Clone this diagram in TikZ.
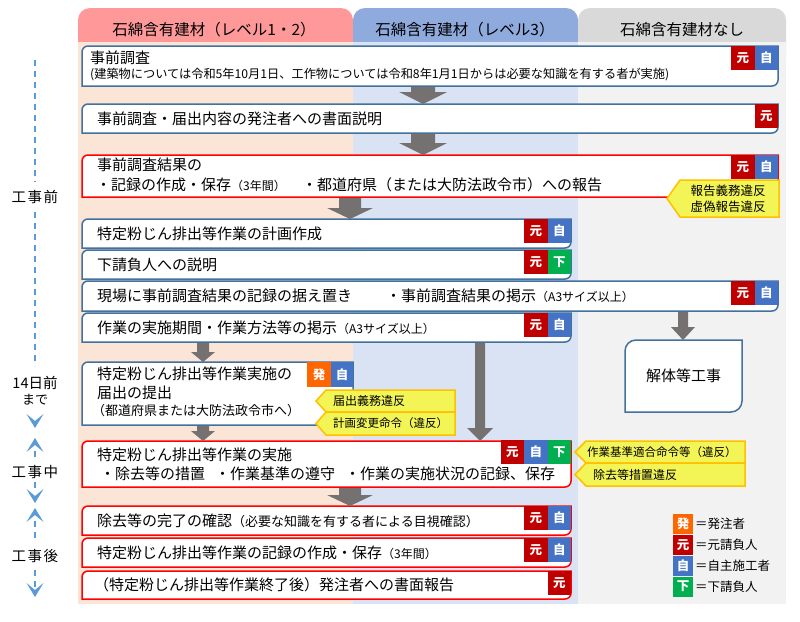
\documentclass[tikz,border=0pt]{standalone}
\usepackage{fontspec}
\setmainfont{Noto Sans CJK JP}
\usetikzlibrary{calc}
\definecolor{hdA}{RGB}{255,153,153}
\definecolor{bdA}{RGB}{251,229,214}
\definecolor{hdB}{RGB}{143,170,220}
\definecolor{bdB}{RGB}{218,227,243}
\definecolor{hdC}{RGB}{217,217,217}
\definecolor{bdC}{RGB}{242,242,242}
\definecolor{cGen}{RGB}{192,0,0}
\definecolor{cJi}{RGB}{68,114,196}
\definecolor{cShita}{RGB}{0,176,80}
\definecolor{cHatsu}{RGB}{255,102,0}
\definecolor{arrGray}{RGB}{118,113,113}
\definecolor{lnBlue}{RGB}{65,113,156}
\definecolor{lnRed}{RGB}{255,0,0}
\definecolor{tlBlue}{RGB}{91,155,213}
\definecolor{callFill}{RGB}{242,245,85}
\definecolor{callLine}{RGB}{255,192,0}
\newcommand\fsz[1]{\fontsize{#1}{#1}\selectfont}
% box: [radius]{name}{x}{y}{w}{h}{style}
\newcommand\mkbox[7][6]{%
  \node[anchor=north west, inner sep=0pt, outer sep=0pt, minimum width=#5pt, minimum height=#6pt] (#2) at (#3,#4) {};
  \draw[#7] (#2.south west) -- ($(#2.north west)+(0,#1)$) .. controls ($(#2.north west)+(0,{0.45*#1})$) and ($(#2.north west)+({0.45*#1},0)$) .. ($(#2.north west)+(#1,0)$) -- (#2.north east) -- ($(#2.south east)+(0,-#1)$) .. controls ($(#2.south east)+(0,{-0.45*#1})$) and ($(#2.south east)+({-0.45*#1},0)$) .. ($(#2.south east)+(-#1,0)$) -- cycle;
}
% callout: tipx, leftx, y1, rightx, y2
\newcommand\callout[5]{%
  \filldraw[calloutshape] (#1,{(#3+#5)/2}) -- (#2,#3) -- (#4,#3) -- (#4,#5) -- (#2,#5) -- cycle;}
% block arrow: x, from, to, shaft half, head half, head length
\newcommand\blockarr[6]{%
  \path (#1,0 |- #2.south) coordinate (ba-s) (#1,0 |- #3.north) coordinate (ba-e);
  \fill[arrGray] ($(ba-s)+(-#4,1)$) -- ($(ba-s)+(#4,1)$) -- ($(ba-e)+(#4,-#6)$) -- ($(ba-e)+(#5,-#6)$) -- (ba-e) -- ($(ba-e)+(-#5,-#6)$) -- ($(ba-e)+(-#4,-#6)$) -- cycle;}
% chevron on timeline: wing y, tip y
\newcommand\chev[2]{%
  \fill[tlBlue] (26.5,#1) -- (35,#2) -- (43.5,#1) -- (35,{#1+(#2-#1)*0.5}) -- cycle;}
\begin{document}
\begin{tikzpicture}[x=1pt,y=-1pt,
  bbox/.style={draw=lnBlue, line width=1.5pt, fill=white},
  rbox/.style={draw=lnRed, line width=1.5pt, fill=white},
  txt/.style={anchor=west, inner sep=0pt, font=\fsz{15}},
  hdr/.style={inner sep=0pt, font=\fsz{15.5}},
  badge/.style={fill=#1, text=white, inner sep=0pt, outer sep=0pt, minimum width=23.5pt, minimum height=23.5pt, font=\fsz{12.5}\bfseries, anchor=north east},
  lgbadge/.style={badge=#1, minimum width=20pt, minimum height=20pt, anchor=center},
  calloutshape/.style={fill=callFill, draw=callLine, line width=1.5pt},
  calltxt/.style={inner sep=0pt, font=\fsz{12}},
  tl/.style={draw=tlBlue, line width=2pt, dash pattern=on 6pt off 5pt},
  tltxt/.style={inner sep=0pt, font=\fsz{14.5}},
  lgtxt/.style={anchor=west, inner sep=0pt, font=\fsz{12.5}}]
\useasboundingbox (0,0) rectangle (800,621);
\fill[white] (0,0) rectangle (800,621);
% column headers and bodies
\fill[hdA, rounded corners=12pt] (78,8) rectangle (353,70);
\fill[hdB, rounded corners=12pt] (353,8) rectangle (578,70);
\fill[hdC, rounded corners=12pt] (578,8) rectangle (786,70);
\fill[bdA] (78,42) rectangle (353,604);
\fill[bdB] (353,42) rectangle (578,604);
\fill[bdC] (578,42) rectangle (786,604);
\node[hdr] (h1) at (214,30) {石綿含有建材（レベル1・2）};
\node[hdr] (h2) at (465,30) {石綿含有建材（レベル3）};
\node[hdr] (h3) at (682,30) {石綿含有建材なし};
% boxes
\mkbox{b1}{82}{46}{696}{40}{bbox}
\mkbox{b2}{82}{104}{696}{29}{bbox}
\mkbox{b3}{82}{155}{696}{42}{rbox}
\mkbox{b4}{82}{219}{489}{29}{bbox}
\mkbox{b5}{82}{250}{489}{29}{bbox}
\mkbox{b6}{82}{281}{696}{30}{bbox}
\mkbox{b7}{82}{313}{489}{29}{bbox}
\mkbox[11]{b8}{625}{340}{117}{72}{bbox}
\mkbox{b9}{82}{362}{271}{63}{bbox}
\mkbox{b10}{82}{441}{489}{46}{rbox}
\mkbox{b11}{82}{506}{489}{29}{rbox}
\mkbox{b12}{82}{538}{489}{29}{rbox}
\mkbox{b13}{82}{571}{489}{28}{rbox}
% gray arrows
\blockarr{423}{b1}{b2}{12}{24}{12}
\blockarr{423}{b2}{b3}{12}{24}{12}
\blockarr{350}{b3}{b4}{11}{23}{11}
\blockarr{203}{b7}{b9}{6}{12}{10}
\blockarr{683}{b6}{b8}{5}{12}{13}
\blockarr{480}{b7}{b10}{5}{13}{13}
\blockarr{203}{b9}{b10}{6}{12}{10}
\blockarr{350}{b10}{b11}{11}{23}{11}
% badges
\node[badge=cJi] (b1j) at (b1.north east) {自};
\node[badge=cGen] (b1g) at (b1j.north west) {元};
\node[badge=cGen] (b2g) at (b2.north east) {元};
\node[badge=cJi] (b3j) at (b3.north east) {自};
\node[badge=cGen] (b3g) at (b3j.north west) {元};
\node[badge=cJi] (b4j) at (b4.north east) {自};
\node[badge=cGen] (b4g) at (b4j.north west) {元};
\node[badge=cShita] (b5s) at (b5.north east) {下};
\node[badge=cGen] (b5g) at (b5s.north west) {元};
\node[badge=cJi] (b6j) at (b6.north east) {自};
\node[badge=cGen] (b6g) at (b6j.north west) {元};
\node[badge=cJi] (b7j) at (b7.north east) {自};
\node[badge=cGen] (b7g) at (b7j.north west) {元};
\node[badge=cJi, minimum width=22pt, minimum height=25pt] (b9j) at (b9.north east) {自};
\node[badge=cHatsu, minimum width=24pt, minimum height=25pt] (b9h) at (b9j.north west) {発};
\node[badge=cShita] (b10s) at ($(b10.north east)+(0,-1)$) {下};
\node[badge=cJi] (b10j) at (b10s.north west) {自};
\node[badge=cGen] (b10g) at (b10j.north west) {元};
\node[badge=cJi] (b11j) at (b11.north east) {自};
\node[badge=cGen] (b11g) at (b11j.north west) {元};
\node[badge=cJi] (b12j) at (b12.north east) {自};
\node[badge=cGen] (b12g) at (b12j.north west) {元};
\node[badge=cGen] (b13g) at (b13.north east) {元};
% texts in boxes
\node[txt] (t1a) at (90,58) {事前調査};
\node[txt, font=\fsz{12.2}] (t1b) at (90,75) {(建築物については令和5年10月1日、工作物については令和8年1月1日からは必要な知識を有する者が実施)};
\node[txt] (t2) at (97,118.5) {事前調査・届出内容の発注者への書面説明};
\node[txt] (t3a) at (97,165) {事前調査結果の};
\node[txt] (t3b) at (96,185) {・記録の作成・保存{\fsz{12}（3年間）}};
\node[txt] (t3c) at (302,185) {・都道府県（または大防法政令市）への報告};
\node[txt] (t4) at (97,233.5) {特定粉じん排出等作業の計画作成};
\node[txt] (t5) at (97,265) {下請負人への説明};
\node[txt] (t6a) at (97,296) {現場に事前調査結果の記録の据え置き};
\node[txt] (t6b) at (386,296) {・事前調査結果の掲示{\fsz{12}（A3サイズ以上）}};
\node[txt] (t7) at (97,327.5) {作業の実施期間・作業方法等の掲示{\fsz{12}（A3サイズ以上）}};
\node[inner sep=0pt, font=\fsz{15}] (t8) at (b8.center) {解体等工事};
\node[txt] (t9a) at (97,374) {特定粉じん排出等作業実施の};
\node[txt] (t9b) at (97,393) {届出の提出};
\node[txt, font=\fsz{13}] (t9c) at (92,411) {（都道府県または大防法政令市へ）};
\node[txt] (t10a) at (97,455) {特定粉じん排出等作業の実施};
\node[txt] (t10b) at (100,474) {・除去等の措置\hspace*{10pt}・作業基準の遵守\hspace*{10pt}・作業の実施状況の記録、保存};
\node[txt] (t11) at (97,521) {除去等の完了の確認{\fsz{13}（必要な知識を有する者による目視確認）}};
\node[txt] (t12) at (97,553) {特定粉じん排出等作業の記録の作成・保存{\fsz{12}（3年間）}};
\node[txt] (t13) at (94,585) {（特定粉じん排出等作業終了後）発注者への書面報告};
% callouts
\callout{667}{680}{180}{779}{217}
\node[calltxt, font=\fsz{12.5}] (c1a) at (728,191) {報告義務違反};
\node[calltxt, font=\fsz{12.5}] (c1b) at (728,207) {虚偽報告違反};
\callout{316}{326}{390}{455}{412}
\callout{316}{326}{412}{455}{435}
\node[calltxt, anchor=west] (c2) at (333,401) {届出義務違反};
\node[calltxt, anchor=west, font=\fsz{11.5}] (c3) at (333,423.5) {計画変更命令（違反）};
\callout{575}{586}{441}{745}{463}
\callout{575}{586}{463}{745}{486}
\node[calltxt, anchor=west, font=\fsz{11.5}] (c4) at (587,452) {作業基準適合命令等（違反）};
\node[calltxt, anchor=west] (c5) at (593,474.5) {除去等措置違反};
% timeline
\draw[tl] (35,60) -- (35,182);
\node[tltxt] (tl1) at (35,197) {工\hspace{1.5pt}事\hspace{1.5pt}前};
\draw[tl] (35,212) -- (35,366);
\node[tltxt] (tl2) at (35,383) {14日前};
\node[tltxt, font=\fsz{13}] (tl3) at (35,400) {まで};
\chev{414}{428}
\chev{452}{438}
\draw[tl] (35,451) -- (35,462);
\node[tltxt] (tl4) at (35,472) {工\hspace{1.5pt}事\hspace{1.5pt}中};
\draw[tl] (35,482) -- (35,492);
\chev{489}{503}
\chev{522}{508}
\draw[tl] (35,521) -- (35,541);
\node[tltxt] (tl5) at (35,556) {工\hspace{1.5pt}事\hspace{1.5pt}後};
\draw[tl] (35,570) -- (35,588);
\chev{583}{597}
% legend
\node[lgbadge=cHatsu] (lg1) at (683,523.5) {発};
\node[lgbadge=cGen] (lg2) at (683,545) {元};
\node[lgbadge=cJi] (lg3) at (683,565.5) {自};
\node[lgbadge=cShita] (lg4) at (683,586.5) {下};
\node[lgtxt] (lt1) at (695,523.5) {＝発注者};
\node[lgtxt] (lt2) at (695,545) {＝元請負人};
\node[lgtxt] (lt3) at (695,565.5) {＝自主施工者};
\node[lgtxt] (lt4) at (695,586.5) {＝下請負人};
\end{tikzpicture}
\end{document}
